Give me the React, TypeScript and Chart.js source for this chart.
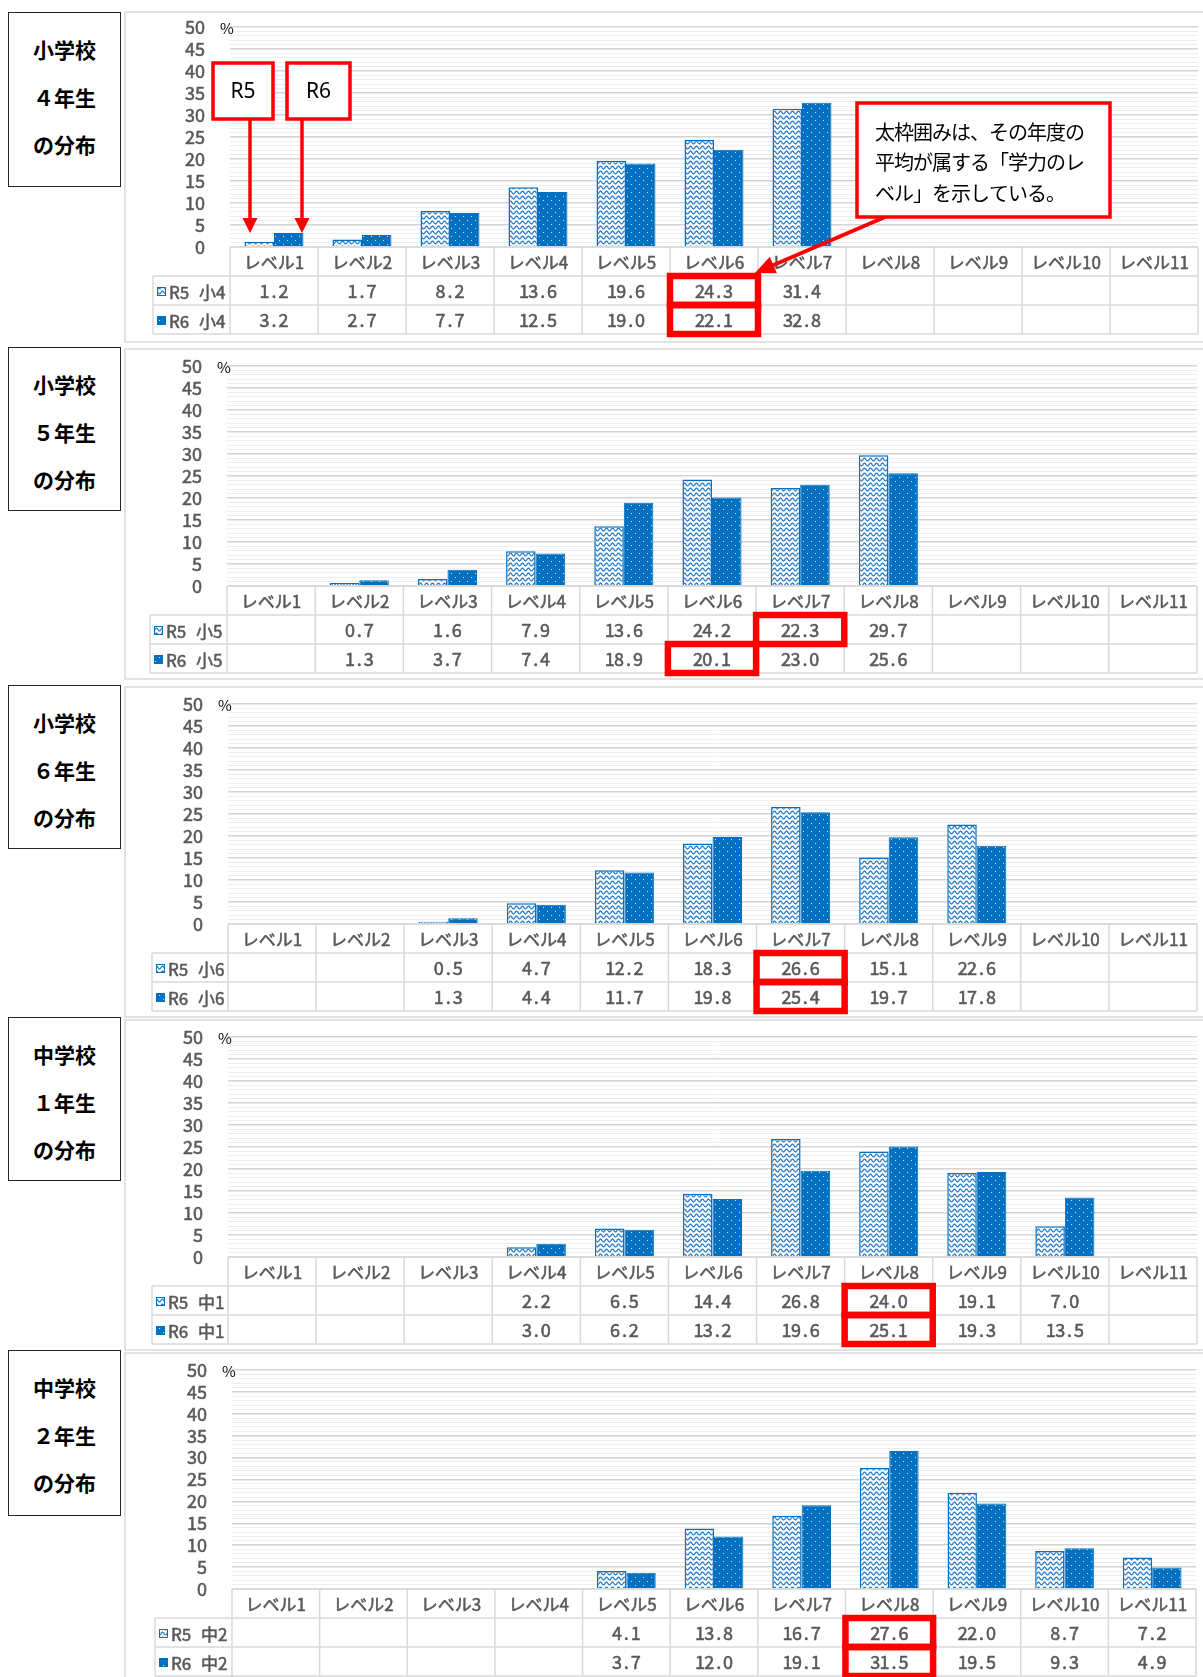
import React, { useEffect, useRef } from 'react';
import { Chart, registerables } from 'chart.js';

Chart.register(...registerables);

// ---------------- data ----------------
const levels = ['レベル1', 'レベル2', 'レベル3', 'レベル4', 'レベル5', 'レベル6', 'レベル7', 'レベル8', 'レベル9', 'レベル10', 'レベル11'];
const yearLabels = ['R5', 'R6'];
const gradeLabels = ['小4', '小5', '小6', '中1', '中2'];
const panelTitles = [
  ['小学校', '４年生', 'の分布'],
  ['小学校', '５年生', 'の分布'],
  ['小学校', '６年生', 'の分布'],
  ['中学校', '１年生', 'の分布'],
  ['中学校', '２年生', 'の分布'],
];
const r5Grade4 = [1.2, 1.7, 8.2, 13.6, 19.6, 24.3, 31.4, null, null, null, null];
const r6Grade4 = [3.2, 2.7, 7.7, 12.5, 19.0, 22.1, 32.8, null, null, null, null];
const r5Grade5 = [null, 0.7, 1.6, 7.9, 13.6, 24.2, 22.3, 29.7, null, null, null];
const r6Grade5 = [null, 1.3, 3.7, 7.4, 18.9, 20.1, 23.0, 25.6, null, null, null];
const r5Grade6 = [null, null, 0.5, 4.7, 12.2, 18.3, 26.6, 15.1, 22.6, null, null];
const r6Grade6 = [null, null, 1.3, 4.4, 11.7, 19.8, 25.4, 19.7, 17.8, null, null];
const r5Junior1 = [null, null, null, 2.2, 6.5, 14.4, 26.8, 24.0, 19.1, 7.0, null];
const r6Junior1 = [null, null, null, 3.0, 6.2, 13.2, 19.6, 25.1, 19.3, 13.5, null];
const r5Junior2 = [null, null, null, null, 4.1, 13.8, 16.7, 27.6, 22.0, 8.7, 7.2];
const r6Junior2 = [null, null, null, null, 3.7, 12.0, 19.1, 31.5, 19.5, 9.3, 4.9];
// index of the level containing the average (thick red frame)
const highlightR5 = [5, 6, 6, 7, 7];
const highlightR6 = [5, 5, 6, 7, 7];
const yMin = 0;
const yMax = 50;
const yLabelStep = 5;
const yGridStep = 1;
const unitLabel = '%';
const calloutLines = ['太枠囲みは、その年度の', '平均が属する「学力のレ', 'ベル」を示している。'];

const panelSeries: (number | null)[][][] = [
  [r5Grade4, r6Grade4],
  [r5Grade5, r6Grade5],
  [r5Grade6, r6Grade6],
  [r5Junior1, r6Junior1],
  [r5Junior2, r6Junior2],
];

// ---------------- layout / style ----------------
const PAGE_W = 1203;
const PAGE_H = 1677;
const CANVAS_LEFT = 122;
const FRAME_LEFT = 125;
const ROW_H = 29;
const FONT = '"Noto Sans CJK JP", "Noto Sans", sans-serif';
const BLUE = '#0070C0';
const GRAY_TEXT = '#595959';
const GRID_TABLE = '#d9d9d9';
const TEXT_STROKE = 0.55;

const panelLayout = [
  { frameTop: 12, frameBottom: 342, y50: 27, y0: 247, plotLeft: 230, plotRight: 1198, legendLeft: 153, boxTop: 12, boxBottom: 187 },
  { frameTop: 349, frameBottom: 679, y50: 366, y0: 586, plotLeft: 227, plotRight: 1197, legendLeft: 150, boxTop: 347, boxBottom: 511 },
  { frameTop: 687, frameBottom: 1017, y50: 704, y0: 924, plotLeft: 228, plotRight: 1197, legendLeft: 152, boxTop: 685, boxBottom: 849 },
  { frameTop: 1020, frameBottom: 1350, y50: 1037, y0: 1257, plotLeft: 228, plotRight: 1197, legendLeft: 152, boxTop: 1017, boxBottom: 1181 },
  { frameTop: 1353, frameBottom: 1700, y50: 1370, y0: 1589, plotLeft: 232, plotRight: 1196, legendLeft: 155, boxTop: 1350, boxBottom: 1516 },
];

function makeWave(ctx: CanvasRenderingContext2D): CanvasPattern | string {
  const c = document.createElement('canvas');
  c.width = 6;
  c.height = 5;
  const g = c.getContext('2d')!;
  g.fillStyle = '#ffffff';
  g.fillRect(0, 0, 6, 5);
  g.strokeStyle = '#2b80cc';
  g.lineWidth = 1.35;
  g.beginPath();
  for (let x = -0.5; x <= 6.5; x += 0.25) {
    const y = 2.5 + 1.3 * Math.sin((x / 6) * 2 * Math.PI);
    if (x === -0.5) g.moveTo(x, y);
    else g.lineTo(x, y);
  }
  g.stroke();
  return ctx.createPattern(c, 'repeat') || '#ffffff';
}

function makeDots(ctx: CanvasRenderingContext2D): CanvasPattern | string {
  const c = document.createElement('canvas');
  c.width = 8;
  c.height = 8;
  const g = c.getContext('2d')!;
  g.fillStyle = BLUE;
  g.fillRect(0, 0, 8, 8);
  g.fillStyle = '#d6e7f6';
  g.fillRect(1, 2, 1, 1);
  g.fillRect(5, 6, 1, 1);
  return ctx.createPattern(c, 'repeat') || BLUE;
}

function heavyText(ctx: CanvasRenderingContext2D, text: string, x: number, y: number) {
  ctx.fillText(text, x, y);
  ctx.lineWidth = TEXT_STROKE;
  ctx.strokeStyle = ctx.fillStyle as string;
  ctx.strokeText(text, x, y);
}

function drawFixed(ctx: CanvasRenderingContext2D, text: string, cx: number, cy: number, adv: number) {
  const total = text.length * adv;
  const start = cx - total / 2;
  ctx.textAlign = 'center';
  for (let i = 0; i < text.length; i++) {
    heavyText(ctx, text[i], start + adv * i + adv / 2, cy);
  }
}

function arrow(ctx: CanvasRenderingContext2D, x1: number, y1: number, x2: number, y2: number, lw: number, head: number, hw: number) {
  const dx = x2 - x1;
  const dy = y2 - y1;
  const len = Math.hypot(dx, dy);
  const ux = dx / len;
  const uy = dy / len;
  const bx = x2 - ux * head;
  const by = y2 - uy * head;
  ctx.strokeStyle = '#ff0000';
  ctx.fillStyle = '#ff0000';
  ctx.lineWidth = lw;
  ctx.beginPath();
  ctx.moveTo(x1, y1);
  ctx.lineTo(bx + ux * 1, by + uy * 1);
  ctx.stroke();
  ctx.beginPath();
  ctx.moveTo(x2, y2);
  ctx.lineTo(bx - uy * hw, by + ux * hw);
  ctx.lineTo(bx + uy * hw, by - ux * hw);
  ctx.closePath();
  ctx.fill();
}

function Panel({ index }: { index: number }) {
  const ref = useRef<HTMLCanvasElement>(null);
  const L = panelLayout[index];
  const canvasTop = L.frameTop - 2;
  const canvasH = Math.min(L.frameBottom, PAGE_H) - canvasTop + 2;
  const canvasW = PAGE_W - CANVAS_LEFT;

  useEffect(() => {
    const canvas = ref.current!;
    const ctx0 = canvas.getContext('2d')!;
    const wave = makeWave(ctx0);
    const dots = makeDots(ctx0);
    const [r5, r6] = panelSeries[index];
    const toX = (px: number) => px - CANVAS_LEFT;
    const toY = (py: number) => py - canvasTop;

    const tablePlugin = {
      id: 'tablePlugin',
      beforeDraw(chart: any) {
        const ctx: CanvasRenderingContext2D = chart.ctx;
        ctx.save();
        ctx.strokeStyle = GRID_TABLE;
        ctx.lineWidth = 1.5;
        ctx.strokeRect(toX(FRAME_LEFT), 2, canvasW + 20, L.frameBottom - L.frameTop);
        ctx.restore();
      },
      afterDraw(chart: any) {
        const ctx: CanvasRenderingContext2D = chart.ctx;
        const ca = chart.chartArea;
        const xs = chart.scales.x;
        const ys = chart.scales.y;
        const n = levels.length;
        const colW = (ca.right - ca.left) / n;
        const colL = (i: number) => xs.getPixelForValue(i) - colW / 2;
        const t0 = ys.getPixelForValue(0);
        const legL = toX(L.legendLeft);
        ctx.save();

        // table grid
        ctx.strokeStyle = GRID_TABLE;
        ctx.lineWidth = 1.5;
        ctx.beginPath();
        ctx.moveTo(ca.left, t0);
        ctx.lineTo(ca.right, t0);
        for (let r = 1; r <= 3; r++) {
          ctx.moveTo(legL, t0 + ROW_H * r);
          ctx.lineTo(ca.right, t0 + ROW_H * r);
        }
        ctx.moveTo(legL, t0 + ROW_H);
        ctx.lineTo(legL, t0 + ROW_H * 3);
        for (let i = 0; i <= n; i++) {
          const x = i < n ? colL(i) : colL(n - 1) + colW;
          ctx.moveTo(x, t0);
          ctx.lineTo(x, t0 + ROW_H * 3);
        }
        ctx.stroke();

        // header labels
        ctx.fillStyle = GRAY_TEXT;
        ctx.textBaseline = 'middle';
        ctx.textAlign = 'center';
        ctx.font = `17px ${FONT}`;
        levels.forEach((lab, i) => {
          heavyText(ctx, lab, xs.getPixelForValue(i), t0 + ROW_H / 2 + 1);
        });

        // values
        ctx.font = `18px ${FONT}`;
        [r5, r6].forEach((series, r) => {
          const cy = t0 + ROW_H * (r + 1) + ROW_H / 2 + 1;
          series.forEach((v, i) => {
            if (v === null || v === undefined) return;
            drawFixed(ctx, v.toFixed(1), xs.getPixelForValue(i), cy, 9.4);
          });
        });

        // legend cells
        [wave, dots].forEach((pat, r) => {
          const top = t0 + ROW_H * (r + 1);
          ctx.fillStyle = pat as any;
          ctx.fillRect(legL + 4, top + 11, 9, 9);
          ctx.strokeStyle = BLUE;
          ctx.lineWidth = 1;
          ctx.strokeRect(legL + 4.5, top + 11.5, 8, 8);
          ctx.fillStyle = GRAY_TEXT;
          ctx.font = `17px ${FONT}`;
          ctx.textAlign = 'left';
          ctx.textBaseline = 'middle';
          heavyText(ctx, yearLabels[r], legL + 16, top + ROW_H / 2 + 2);
          heavyText(ctx, gradeLabels[index], legL + 46, top + ROW_H / 2 + 2);
        });

        // red frames around the average level
        ctx.strokeStyle = '#ff0000';
        ctx.lineWidth = 6.5;
        [highlightR5[index], highlightR6[index]].forEach((h, r) => {
          ctx.strokeRect(colL(h), t0 + ROW_H * (r + 1), colW, ROW_H);
        });

        // unit label
        ctx.fillStyle = '#000000';
        ctx.font = `15px ${FONT}`;
        ctx.textAlign = 'left';
        ctx.textBaseline = 'middle';
        ctx.fillText(unitLabel, ca.left - 10, ys.getPixelForValue(yMax) + 1);

        // annotations of the first panel
        if (index === 0) {
          const c0 = xs.getPixelForValue(0);
          const tipY = ys.getPixelForValue(Math.max(r5[0] as number, r6[0] as number));
          const bTop = ca.top + 36;
          const bBot = ca.top + 92;
          const tags = [
            { text: yearLabels[0], left: c0 - 61, right: c0 - 1, ax: c0 - 24 },
            { text: yearLabels[1], left: c0 + 13, right: c0 + 76, ax: c0 + 28 },
          ];
          tags.forEach((t) => {
            arrow(ctx, t.ax, bBot, t.ax, tipY, 3.5, 15, 7.5);
            ctx.fillStyle = '#ffffff';
            ctx.fillRect(t.left, bTop, t.right - t.left, bBot - bTop);
            ctx.strokeStyle = '#ff0000';
            ctx.lineWidth = 3.5;
            ctx.strokeRect(t.left, bTop, t.right - t.left, bBot - bTop);
            ctx.fillStyle = '#000000';
            ctx.font = `21px "Noto Sans", sans-serif`;
            ctx.textAlign = 'center';
            ctx.textBaseline = 'middle';
            ctx.fillText(t.text, (t.left + t.right) / 2, (bTop + bBot) / 2 + 1);
          });

          const cl = colL(7) + 11;
          const cr = colL(10);
          const ct = ca.top + 76;
          const cb = ca.top + 190;
          arrow(ctx, cl + 28, cb, colL(6) - 3, t0 + 26, 4, 20, 9);
          ctx.fillStyle = '#ffffff';
          ctx.fillRect(cl, ct, cr - cl, cb - ct);
          ctx.strokeStyle = '#ff0000';
          ctx.lineWidth = 3.5;
          ctx.strokeRect(cl, ct, cr - cl, cb - ct);
          ctx.fillStyle = '#000000';
          ctx.font = `20px ${FONT}`;
          ctx.textAlign = 'left';
          ctx.textBaseline = 'middle';
          (ctx as any).letterSpacing = '-1px';
          calloutLines.forEach((line, k) => {
            ctx.fillText(line, cl + 18, ct + 29 + k * 30.5);
          });
          (ctx as any).letterSpacing = '0px';
        }
        ctx.restore();
      },
    };

    const chart = new Chart(canvas, {
      type: 'bar',
      data: {
        labels: levels,
        datasets: [
          {
            label: `${yearLabels[0]} ${gradeLabels[index]}`,
            data: r5 as any,
            backgroundColor: wave as any,
            borderColor: BLUE,
            borderWidth: 1.5,
            categoryPercentage: 0.67,
            barPercentage: 1,
          },
          {
            label: `${yearLabels[1]} ${gradeLabels[index]}`,
            data: r6 as any,
            backgroundColor: dots as any,
            borderColor: BLUE,
            borderWidth: 1,
            categoryPercentage: 0.67,
            barPercentage: 1,
          },
        ],
      },
      options: {
        responsive: false,
        animation: false,
        devicePixelRatio: 1,
        layout: {
          padding: {
            top: toY(L.y50),
            bottom: canvasH - toY(L.y0),
            left: 0,
            right: canvasW - toX(L.plotRight),
          },
        },
        plugins: {
          legend: { display: false },
          tooltip: { enabled: false },
        },
        scales: {
          x: { display: false, offset: true },
          y: {
            min: yMin,
            max: yMax,
            border: { display: false },
            grid: {
              drawTicks: false,
              color: (c: any) => (c.tick && c.tick.value % yLabelStep === 0 ? '#d4d4d4' : '#eeeeee'),
              lineWidth: (c: any) => (c.tick && c.tick.value % yLabelStep === 0 ? 1.5 : 1),
            },
            ticks: {
              stepSize: yGridStep,
              autoSkip: false,
              maxTicksLimit: 100,
              padding: 25,
              color: GRAY_TEXT,
              textStrokeColor: GRAY_TEXT,
              textStrokeWidth: TEXT_STROKE,
              font: { family: FONT, size: 18 },
              callback: (v: any) => (Number(v) % yLabelStep === 0 ? String(v) : ''),
            },
            afterFit: (s: any) => {
              s.width = toX(L.plotLeft);
              s.paddingTop = 0;
              s.paddingBottom = 0;
            },
          },
        },
      },
      plugins: [tablePlugin],
    } as any);
    return () => chart.destroy();
  }, [index]);

  const titles = panelTitles[index];
  const rel = [36, 84, 131];
  return (
    <>
      <div
        style={{
          position: 'absolute',
          left: 8,
          top: L.boxTop,
          width: 113,
          height: L.boxBottom - L.boxTop,
          border: '1.5px solid #262626',
          boxSizing: 'border-box',
          background: '#ffffff',
        }}
      >
        {titles.map((t, k) => (
          <div
            key={k}
            style={{
              position: 'absolute',
              left: 0,
              right: 0,
              top: rel[k] - 14,
              height: 28,
              lineHeight: '28px',
              textAlign: 'center',
              fontFamily: FONT,
              fontWeight: 'bold',
              fontSize: 21,
              color: '#000000',
            }}
          >
            {t}
          </div>
        ))}
      </div>
      <canvas
        ref={ref}
        width={canvasW}
        height={canvasH}
        style={{ position: 'absolute', left: CANVAS_LEFT, top: canvasTop, width: canvasW, height: canvasH }}
      />
    </>
  );
}

export default function App() {
  return (
    <div
      style={{
        position: 'absolute',
        left: 0,
        top: 0,
        width: PAGE_W,
        height: PAGE_H,
        overflow: 'hidden',
        background: '#ffffff',
      }}
    >
      {panelTitles.map((_, i) => (
        <Panel key={i} index={i} />
      ))}
    </div>
  );
}
